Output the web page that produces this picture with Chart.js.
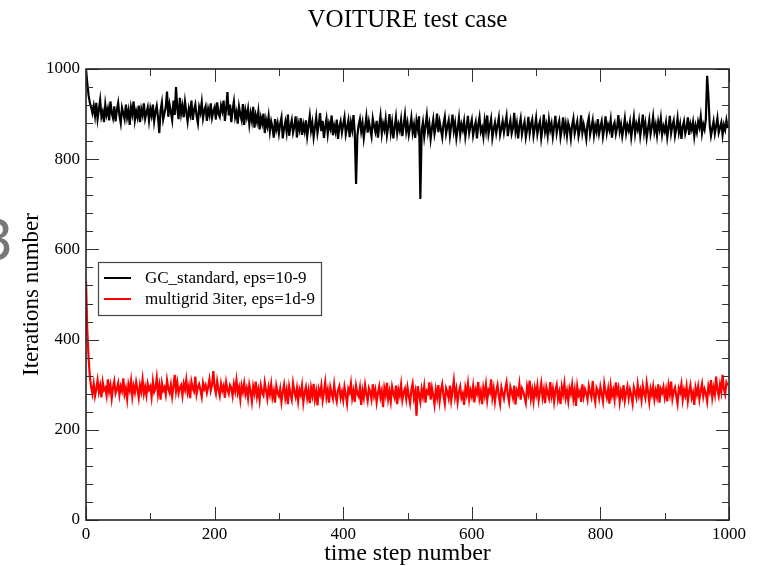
<!DOCTYPE html>
<html>
<head>
<meta charset="utf-8">
<script src="https://cdn.jsdelivr.net/npm/chart.js@4.4.1/dist/chart.umd.min.js"></script>
<style>
  body { margin: 0; background: #fff; }
  #wrap { width: 757px; height: 566px; }
</style>
</head>
<body>
<div id="wrap"><canvas id="c" width="757" height="566"></canvas></div>
<script>
// time steps sampled every 2 steps
const stepEvery = 2;

const xTicks = [0, 200, 400, 600, 800, 1000];
const yTicks = [0, 200, 400, 600, 800, 1000];

const gcLabel = "GC_standard, eps=10-9";
const mgLabel = "multigrid 3iter, eps=1d-9";

const gcStandard = [
  1000, 968, 942, 925, 915, 902, 918, 896, 925, 889, 910, 931, 894, 905, 882, 921, 899, 912, 886, 928, 903, 891, 917, 884, 909,
  925, 897, 880, 914, 902, 889, 921, 893, 908, 876, 915, 900, 928, 887, 906, 893, 919, 882, 911, 898, 924, 890, 903, 915, 886,
  912, 897, 921, 884, 905, 918, 893, 858, 909, 926, 888, 902, 915, 950, 894, 921, 905, 887, 930, 898, 960, 912, 889, 936, 901,
  918, 893, 927, 905, 884, 912, 899, 930, 887, 909, 921, 896, 880, 915, 903, 926, 891, 908, 917, 885, 911, 898, 924, 892, 906,
  915, 888, 926, 901, 894, 919, 907, 930, 885, 912, 949, 897, 921, 882, 910, 928, 893, 905, 879, 916, 899, 887, 922, 876, 908,
  893, 911, 878, 902, 885, 916, 870, 897, 883, 905, 866, 892, 879, 901, 858, 887, 873, 895, 862, 884, 871, 848, 889, 866, 880,
  857, 878, 892, 846, 869, 883, 861, 899, 852, 874, 887, 859, 872, 895, 848, 880, 866, 891, 854, 877, 862, 886, 851, 873, 896,
  864, 881, 849, 870, 893, 858, 876, 902, 862, 885, 847, 871, 889, 856, 879, 868, 897, 853, 874, 861, 888, 845, 872, 884, 859,
  877, 893, 855, 870, 886, 849, 881, 865, 898, 858, 745, 852, 876, 889, 862, 880, 847, 871, 894, 859, 883, 867, 851, 890, 873,
  861, 885, 848, 874, 896, 857, 879, 866, 889, 853, 872, 900, 860, 881, 846, 870, 893, 858, 877, 864, 887, 851, 875, 898, 862,
  880, 854, 871, 892, 859, 876, 847, 885, 868, 895, 712, 863, 882, 850, 874, 897, 861, 878, 845, 869, 888, 856, 873, 901, 860,
  883, 866, 849, 879, 894, 857, 872, 886, 852, 875, 899, 863, 880, 847, 868, 891, 855, 877, 865, 884, 850, 871, 896, 859, 874,
  887, 853, 869, 882, 846, 876, 893, 861, 870, 850, 885, 864, 897, 856, 873, 889, 848, 867, 881, 858, 875, 892, 854, 868, 884,
  860, 878, 895, 851, 872, 886, 857, 869, 903, 862, 879, 846, 874, 890, 855, 871, 883, 849, 866, 894, 858, 877, 888, 852, 870,
  891, 856, 873, 884, 847, 868, 899, 861, 876, 853, 887, 865, 879, 850, 872, 896, 858, 874, 885, 849, 867, 893, 860, 878, 852,
  880, 869, 846, 875, 890, 857, 871, 884, 851, 866, 897, 859, 877, 863, 845, 879, 892, 855, 870, 886, 853, 874, 861, 889, 857,
  872, 884, 850, 868, 895, 859, 876, 865, 887, 848, 873, 881, 856, 870, 898, 862, 877, 851, 869, 890, 858, 875, 864, 882, 849,
  871, 893, 857, 878, 866, 885, 852, 874, 899, 860, 879, 848, 868, 887, 856, 872, 894, 861, 876, 853, 883, 867, 890, 855, 873,
  862, 881, 849, 870, 896, 858, 875, 886, 852, 868, 891, 860, 877, 845, 872, 884, 857, 869, 893, 854, 878, 866, 882, 851, 874,
  860, 883, 871, 894, 858, 877, 866, 889, 985, 940, 876, 852, 868, 884, 857, 873, 891, 859, 870, 881, 854, 876, 865, 886, 869
];

const multigrid = [
  530, 420, 360, 318, 295, 280, 302, 275, 291, 310, 284, 298, 272, 305, 288, 293, 276, 312, 285, 299, 270, 294, 308, 281, 290,
  303, 277, 296, 286, 314, 279, 292, 268, 301, 288, 309, 274, 297, 283, 306, 290, 271, 299, 285, 311, 280, 295, 276, 302, 289,
  296, 273, 307, 284, 292, 315, 279, 298, 267, 303, 287, 294, 278, 310, 291, 282, 300, 274, 296, 322, 286, 305, 281, 293, 299,
  276, 302, 289, 311, 283, 297, 270, 306, 292, 285, 318, 279, 294, 301, 288, 273, 304, 291, 299, 282, 296, 312, 287, 300, 330,
  295, 281, 308, 290, 276, 302, 287, 297, 271, 305, 289, 280, 299, 293, 275, 301, 286, 310, 282, 294, 268, 298, 284, 303, 279,
  292, 270, 300, 285, 263, 296, 281, 307, 274, 289, 266, 298, 283, 276, 305, 288, 269, 294, 279, 301, 272, 286, 260, 297, 282,
  275, 291, 262, 284, 300, 271, 288, 257, 296, 280, 267, 303, 285, 273, 292, 264, 289, 278, 298, 261, 283, 295, 270, 287, 259,
  293, 276, 302, 268, 285, 254, 290, 279, 298, 265, 283, 305, 272, 288, 260, 294, 281, 269, 300, 276, 263, 289, 297, 271, 284,
  266, 295, 278, 258, 291, 283, 303, 270, 286, 262, 297, 280, 274, 293, 255, 287, 271, 299, 279, 264, 292, 284, 268, 301, 276,
  289, 261, 282, 296, 272, 286, 250, 292, 277, 304, 268, 285, 263, 295, 280, 271, 298, 257, 288, 276, 300, 266, 283, 291, 269,
  294, 275, 259, 288, 302, 270, 284, 231, 297, 279, 262, 290, 274, 296, 260, 286, 281, 305, 267, 293, 277, 256, 289, 272, 299,
  264, 287, 301, 276, 258, 292, 283, 270, 298, 265, 286, 309, 273, 290, 262, 284, 296, 271, 280, 255, 293, 278, 302, 268, 287,
  274, 296, 261, 289, 280, 306, 270, 285, 257, 293, 277, 300, 266, 288, 282, 312, 272, 291, 263, 286, 299, 275, 258, 294, 281,
  269, 290, 305, 277, 262, 295, 284, 271, 298, 256, 287, 279, 301, 267, 292, 285, 273, 260, 296, 281, 309, 270, 288, 264, 293,
  278, 298, 266, 285, 303, 272, 289, 259, 294, 281, 270, 306, 275, 291, 263, 287, 299, 268, 283, 257, 295, 279, 302, 271, 286,
  264, 292, 280, 300, 269, 288, 253, 296, 277, 285, 262, 301, 274, 290, 281, 267, 297, 283, 272, 308, 276, 261, 293, 286, 270,
  295, 279, 263, 302, 284, 271, 290, 258, 297, 276, 288, 267, 305, 280, 293, 262, 286, 274, 299, 265, 282, 296, 270, 289, 277,
  259, 294, 283, 271, 300, 276, 288, 266, 297, 281, 270, 304, 285, 262, 291, 278, 296, 268, 287, 273, 301, 260, 290, 282, 295,
  272, 289, 263, 298, 280, 307, 269, 286, 294, 275, 258, 292, 283, 301, 267, 288, 276, 296, 264, 285, 299, 271, 282, 255, 293,
  279, 296, 268, 287, 302, 274, 290, 281, 263, 297, 285, 310, 272, 293, 278, 318, 288, 275, 300, 284, 322, 291, 279, 305, 298
];

const serif = "'Liberation Serif', 'Times New Roman', serif";

const toPoints = (vals) => vals.map((v, i) => ({ x: i * stepEvery, y: v }));

// grace-like frame with inward major/minor ticks on all 4 sides + legend box
const frameTicks = {
  id: "frameTicks",
  afterDatasetsDraw(chart) {
    const { ctx, chartArea: a, scales: { x, y } } = chart;
    ctx.save();
    ctx.strokeStyle = "#333";
    ctx.lineWidth = 1;
    ctx.beginPath();
    for (let v = 0; v <= 1000; v += 100) {
      const px = Math.round(x.getPixelForValue(v)) + 0.5;
      const len = v % 200 === 0 ? 13 : 7;
      ctx.moveTo(px, a.bottom); ctx.lineTo(px, a.bottom - len);
      ctx.moveTo(px, a.top); ctx.lineTo(px, a.top + len);
    }
    for (let v = 0; v <= 1000; v += 40) {
      const py = Math.round(y.getPixelForValue(v)) + 0.5;
      const len = v % 200 === 0 ? 13 : 7;
      ctx.moveTo(a.left, py); ctx.lineTo(a.left + len, py);
      ctx.moveTo(a.right, py); ctx.lineTo(a.right - len, py);
    }
    ctx.stroke();

    ctx.lineWidth = 1.6;
    ctx.strokeStyle = "#222";
    ctx.strokeRect(a.left, a.top, a.right - a.left, a.bottom - a.top);

    // legend
    const lx = 98, ly = 262, lw = 223, lh = 53;
    ctx.fillStyle = "#fff";
    ctx.fillRect(lx, ly, lw, lh);
    ctx.lineWidth = 1.2;
    ctx.strokeStyle = "#444";
    ctx.strokeRect(lx + 0.5, ly + 0.5, lw, lh);
    ctx.font = "17px " + serif;
    ctx.textBaseline = "middle";
    chart.data.datasets.forEach((ds, i) => {
      const yy = ly + 16 + i * 21;
      ctx.strokeStyle = ds.borderColor;
      ctx.lineWidth = 2;
      ctx.beginPath();
      ctx.moveTo(lx + 6, yy); ctx.lineTo(lx + 33, yy);
      ctx.stroke();
      ctx.fillStyle = "#000";
      ctx.fillText(ds.label, lx + 47, yy + 1);
    });
    ctx.restore();
  },
  afterDraw(chart) {
    // stray glyph cut off at the left edge of the screenshot
    const { ctx } = chart;
    ctx.save();
    ctx.fillStyle = "#777";
    ctx.font = "56px 'DejaVu Sans', sans-serif";
    ctx.textAlign = "right";
    ctx.textBaseline = "alphabetic";
    ctx.fillText("3", 14, 259);
    ctx.restore();
  }
};

new Chart(document.getElementById("c"), {
  type: "line",
  data: {
    datasets: [
      {
        label: gcLabel,
        data: toPoints(gcStandard),
        borderColor: "#000",
        borderWidth: 2.2,
        pointRadius: 0,
        tension: 0
      },
      {
        label: mgLabel,
        data: toPoints(multigrid),
        borderColor: "#ff0000",
        borderWidth: 2.2,
        pointRadius: 0,
        tension: 0
      }
    ]
  },
  options: {
    responsive: false,
    animation: false,
    layout: { padding: { left: 0, right: 28, top: 0, bottom: 0 } },
    plugins: {
      legend: { display: false },
      tooltip: { enabled: false },
      title: {
        display: true,
        text: "VOITURE test case",
        fullSize: false,
        color: "#000",
        font: { family: serif, size: 25, weight: "normal", lineHeight: 1.2 },
        padding: { top: 5, bottom: 34 }
      }
    },
    scales: {
      x: {
        type: "linear",
        min: 0,
        max: 1000,
        afterFit: (s) => { s.height = 46; },
        afterBuildTicks: (s) => { s.ticks = xTicks.map((v) => ({ value: v })); },
        grid: { display: false, drawTicks: false },
        border: { display: false },
        ticks: { color: "#000", padding: 4, font: { family: serif, size: 17 }, callback: (v) => String(v) },
        title: {
          display: true,
          text: "time step number",
          color: "#000",
          padding: 0,
          font: { family: serif, size: 24, lineHeight: 1 }
        }
      },
      y: {
        type: "linear",
        min: 0,
        max: 1000,
        afterFit: (s) => { s.width = 86; },
        afterBuildTicks: (s) => { s.ticks = yTicks.map((v) => ({ value: v })); },
        grid: { display: false, drawTicks: false },
        border: { display: false },
        ticks: { color: "#000", padding: 6, font: { family: serif, size: 17 }, callback: (v) => String(v) },
        title: {
          display: true,
          text: "Iterations number",
          color: "#000",
          padding: { top: 20, bottom: 0 },
          font: { family: serif, size: 23, lineHeight: 1 }
        }
      }
    }
  },
  plugins: [frameTicks]
});
</script>
</body>
</html>
